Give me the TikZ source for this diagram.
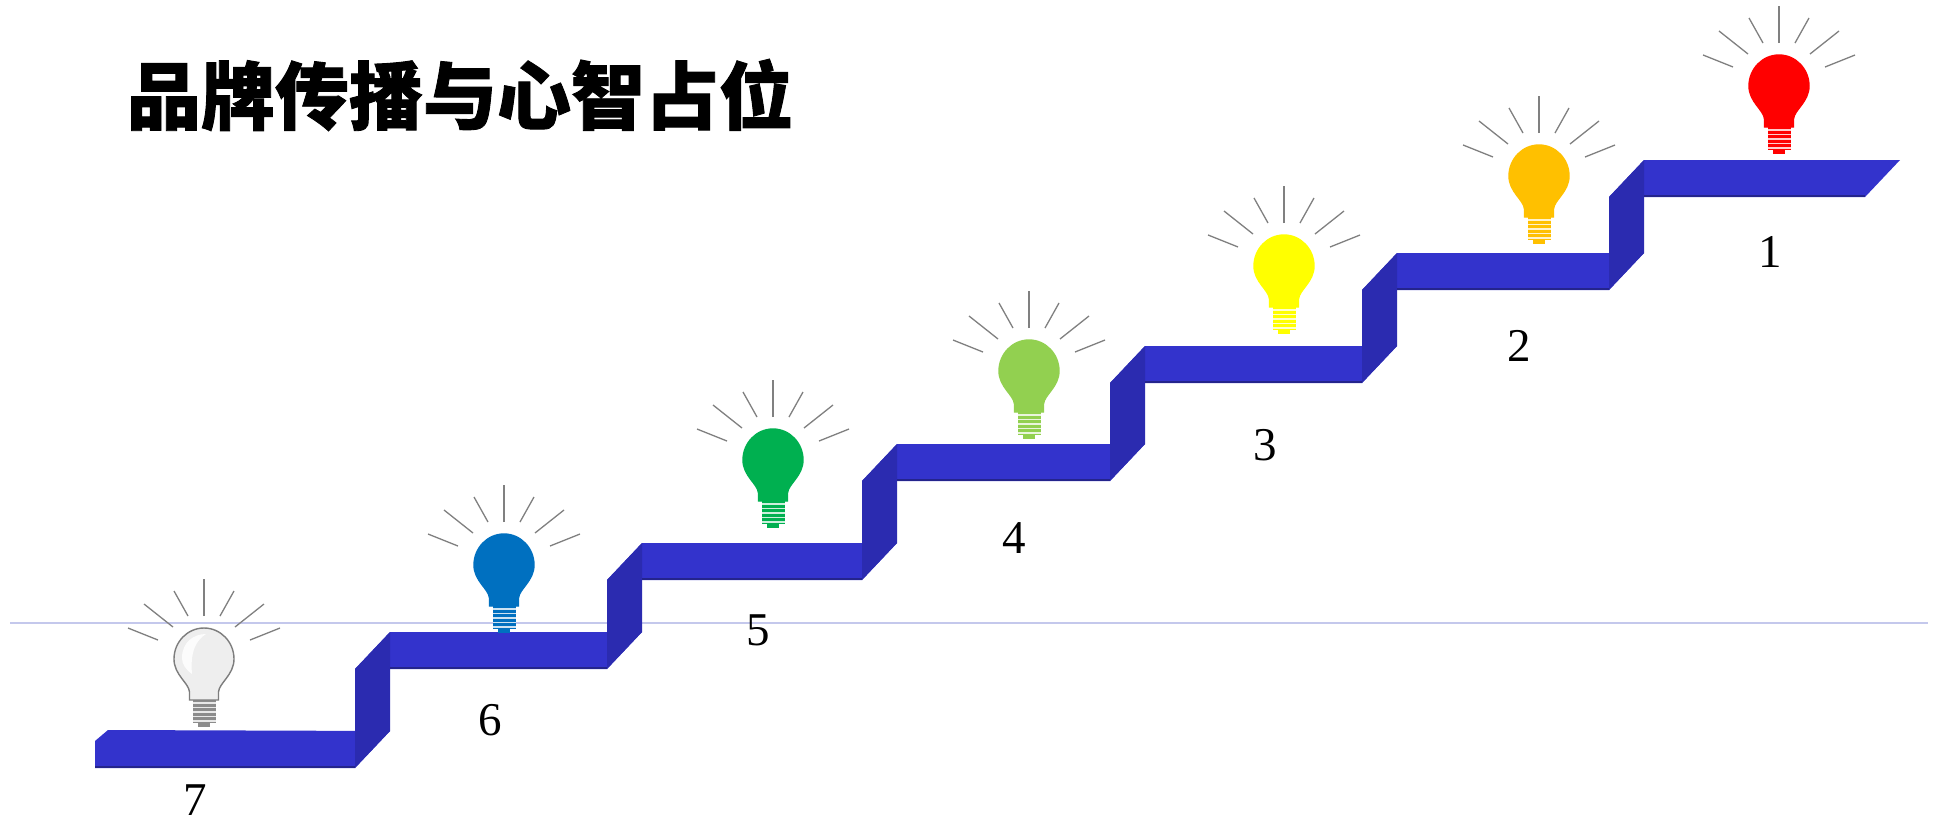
\documentclass[tikz,border=0pt]{standalone}
\usepackage{fontspec}
\setmainfont{Liberation Serif}
\newfontfamily\cjk{Noto Sans CJK SC}[BoldFeatures={FakeBold=1.2}]
\definecolor{tread}{RGB}{51,51,204}
\definecolor{riser}{RGB}{43,43,176}
\definecolor{treadedge}{RGB}{36,36,140}
\definecolor{raygray}{RGB}{128,128,128}
\definecolor{guide}{RGB}{196,200,236}
\definecolor{bulbblue}{RGB}{0,112,192}
\definecolor{bulbgreen}{RGB}{0,176,80}
\definecolor{bulblime}{RGB}{146,208,80}
\definecolor{bulbyellow}{RGB}{255,255,0}
\definecolor{bulborange}{RGB}{255,192,0}
\definecolor{bulbred}{RGB}{255,0,0}
\definecolor{glassgray}{RGB}{238,238,238}
\definecolor{outlinegray}{RGB}{125,125,125}
\definecolor{screwgray}{RGB}{140,140,140}

\tikzset{
  treadface/.style={fill=tread},
  riserface/.style={fill=riser},
  frontedge/.style={draw=treadedge, line width=1.6pt},
  rayline/.style={draw=raygray, line width=1.3pt},
  steplabel/.style={font=\fontsize{47}{47}\selectfont, inner sep=0pt},
}

% one light bulb: #1 centre x, #2 top of glass, #3 glass colour, #4 outline, #5 screw colour
\newcommand\lightbulb[5]{%
  \begin{scope}[shift={(#1,#2)}]
    \foreach \ax/\ay/\bx/\by in {0/-12/0/-49, 16/-12/30/-37, -16/-12/-30/-37,
        31/-1/60/-24, -31/-1/-60/-24, 46/12/76/0, -46/12/-76/0}
      \draw[rayline] (\ax,\ay) -- (\bx,\by);
    \fill[#5] (-11.5,71) rectangle (11.5,95);
    \fill[#5] (-6,95) rectangle (6,99);
    \foreach \s in {75,79.5,84,88.5,93}
      \draw[white, opacity=0.8, line width=1.1pt] (-11.5,\s) -- (11.5,\s);
    \filldraw[fill=#3, draw=#4, line width=1.4pt]
      (-14.5,72) -- (-14.5,64)
      .. controls (-15,55) and (-30,47) .. (-30,31)
      .. controls (-30,14) and (-16.6,0) .. (0,0)
      .. controls (16.6,0) and (30,14) .. (30,31)
      .. controls (30,47) and (15,55) .. (14.5,64)
      -- (14.5,72) -- cycle;
  \end{scope}}

\begin{document}
\begin{tikzpicture}[x=1pt, y=-1pt]
  \useasboundingbox (0,0) rectangle (1937,822);
  \fill[white] (0,0) rectangle (1937,822);

  % faint guide line behind the stairs
  \draw[guide, line width=1.6pt] (10,623) -- (1928,623);

  % treads (horizontal faces)
  \fill[treadface] (95,768) -- (95,741) -- (108,730) -- (390,731) -- (355,768) -- cycle;
  \fill[treadface] (355,669) -- (607,669) -- (642,632) -- (390,632) -- cycle;
  \fill[treadface] (607,580) -- (862,580) -- (897,543) -- (642,543) -- cycle;
  \fill[treadface] (862,481) -- (1110,481) -- (1145,444) -- (897,444) -- cycle;
  \fill[treadface] (1110,383) -- (1362,383) -- (1397,346) -- (1145,346) -- cycle;
  \fill[treadface] (1362,290) -- (1609,290) -- (1644,253) -- (1397,253) -- cycle;
  \fill[treadface] (1609,197) -- (1865,197) -- (1900,160) -- (1644,160) -- cycle;

  % risers (vertical faces)
  \fill[riserface] (355,669) -- (355,768) -- (390,731) -- (390,632) -- cycle;
  \fill[riserface] (607,580) -- (607,669) -- (642,632) -- (642,543) -- cycle;
  \fill[riserface] (862,481) -- (862,580) -- (897,543) -- (897,444) -- cycle;
  \fill[riserface] (1110,383) -- (1110,481) -- (1145,444) -- (1145,346) -- cycle;
  \fill[riserface] (1362,290) -- (1362,383) -- (1397,346) -- (1397,253) -- cycle;
  \fill[riserface] (1609,197) -- (1609,290) -- (1644,253) -- (1644,160) -- cycle;

  % darker front edges of the treads
  \draw[frontedge] (95,767) -- (355,767);
  \draw[frontedge] (390,668) -- (607,668);
  \draw[frontedge] (642,579) -- (862,579);
  \draw[frontedge] (897,480) -- (1110,480);
  \draw[frontedge] (1145,382) -- (1362,382);
  \draw[frontedge] (1397,289) -- (1609,289);
  \draw[frontedge] (1644,196) -- (1865,196);

  % bulbs
  \lightbulb{204}{628}{glassgray}{outlinegray}{screwgray}
  \begin{scope}[shift={(204,628)}]
    % highlight on the unlit glass
    \fill[white, opacity=0.85] (-22,30) .. controls (-22,14) and (-10,6) .. (2,6)
      .. controls (-8,12) and (-14,24) .. (-12,46) .. controls (-18,42) and (-22,36) .. (-22,30) -- cycle;
  \end{scope}
  \lightbulb{504}{534}{bulbblue}{bulbblue}{bulbblue}
  \lightbulb{773}{429}{bulbgreen}{bulbgreen}{bulbgreen}
  \lightbulb{1029}{340}{bulblime}{bulblime}{bulblime}
  \lightbulb{1284}{235}{bulbyellow}{bulbyellow}{bulbyellow}
  \lightbulb{1539}{145}{bulborange}{bulborange}{bulborange}
  \lightbulb{1779}{55}{bulbred}{bulbred}{bulbred}

  % step numbers
  \node[steplabel] (n7) at (195,800) {7};
  \node[steplabel] (n6) at (490,720) {6};
  \node[steplabel] (n5) at (758,630) {5};
  \node[steplabel] (n4) at (1014,538) {4};
  \node[steplabel] (n3) at (1265,445) {3};
  \node[steplabel] (n2) at (1519,346) {2};
  \node[steplabel] (n1) at (1770,252) {1};

  % title
  \node[font=\cjk\bfseries\fontsize{74}{74}\selectfont, inner sep=0pt] (title) at (460,95) {品牌传播与心智占位};
\end{tikzpicture}
\end{document}
